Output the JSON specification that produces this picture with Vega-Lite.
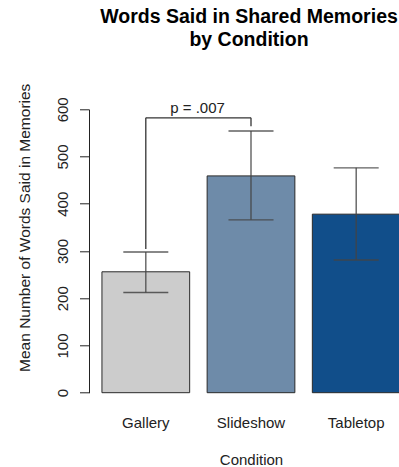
{
  "$schema": "https://vega.github.io/schema/vega-lite/v6.json",
  "width": 310,
  "height": 283.4,
  "autosize": {"type": "none"},
  "padding": {"left": 89, "top": 109.3, "right": 0, "bottom": 74.3},
  "background": "white",
  "title": {
    "text": ["Words Said in Shared Memories", "by Condition"],
    "font": "Liberation Sans",
    "fontSize": 19.5,
    "fontWeight": "bold",
    "color": "black",
    "anchor": "middle",
    "frame": "group",
    "dx": 5,
    "lineHeight": 22.5,
    "offset": 33
  },
  "config": {
    "view": {"stroke": null},
    "font": "Liberation Sans",
    "axis": {"grid": false}
  },
  "datasets": {
    "means": [
      {"cond": "Gallery", "mean": 256, "lo": 212, "hi": 298},
      {"cond": "Slideshow", "mean": 459, "lo": 366, "hi": 554},
      {"cond": "Tabletop", "mean": 378, "lo": 281, "hi": 476}
    ],
    "bracket": [
      {"cond": "Gallery", "cond2": "Gallery", "ya": 582, "yb": 304},
      {"cond": "Slideshow", "cond2": "Slideshow", "ya": 582, "yb": 564},
      {"cond": "Gallery", "cond2": "Slideshow", "ya": 582, "yb": 582}
    ],
    "note": [
      {"cond": "Gallery", "ya": 582, "label": "p = .007"}
    ]
  },
  "encoding": {
    "x": {
      "field": "cond",
      "type": "nominal",
      "sort": ["Gallery", "Slideshow", "Tabletop"],
      "scale": {
        "domain": ["Gallery", "Slideshow", "Tabletop"],
        "range": [0, 324],
        "paddingInner": 0.166,
        "paddingOuter": 0.123
      },
      "axis": {
        "title": "Condition",
        "labelAngle": 0,
        "ticks": false,
        "domain": false,
        "labelPadding": 23,
        "labelFontSize": 15,
        "labelColor": "#222",
        "titleFontSize": 15,
        "titleFontWeight": "normal",
        "titleColor": "#222",
        "titlePadding": 21.5
      }
    }
  },
  "layer": [
    {
      "data": {"name": "means"},
      "mark": {"type": "bar", "stroke": "#2a2a2a", "strokeWidth": 1},
      "encoding": {
        "y": {
          "field": "mean",
          "type": "quantitative",
          "scale": {"domain": [0, 600], "nice": false},
          "axis": {
            "title": "Mean Number of Words Said in Memories",
            "values": [0, 100, 200, 300, 400, 500, 600],
            "labelAngle": -90,
            "labelAlign": "center",
            "labelBaseline": "bottom",
            "labelPadding": 9,
            "labelFontSize": 15,
            "labelColor": "#222",
            "tickSize": 9.5,
            "tickColor": "#222",
            "domainColor": "#222",
            "titleFontSize": 15.5,
            "titleFontWeight": "normal",
            "titleColor": "#222",
            "titleAngle": -90,
            "titleBaseline": "middle",
            "titleAlign": "center",
            "titleX": -65,
            "titleY": 118
          }
        },
        "color": {
          "field": "cond",
          "type": "nominal",
          "scale": {
            "domain": ["Gallery", "Slideshow", "Tabletop"],
            "range": ["#CCCCCC", "#6E8BA9", "#114E8A"]
          },
          "legend": null
        }
      }
    },
    {
      "data": {"name": "means"},
      "mark": {"type": "rule", "color": "#444", "strokeWidth": 1.4, "opacity": 0.85},
      "encoding": {
        "y": {"field": "lo", "type": "quantitative"},
        "y2": {"field": "hi"}
      }
    },
    {
      "data": {"name": "means"},
      "mark": {"type": "tick", "color": "#444", "thickness": 1.4, "size": 45, "opacity": 0.85},
      "encoding": {
        "y": {"field": "lo", "type": "quantitative"}
      }
    },
    {
      "data": {"name": "means"},
      "mark": {"type": "tick", "color": "#444", "thickness": 1.4, "size": 45, "opacity": 0.85},
      "encoding": {
        "y": {"field": "hi", "type": "quantitative"}
      }
    },
    {
      "data": {"name": "bracket"},
      "mark": {"type": "rule", "color": "#333", "strokeWidth": 1.3},
      "encoding": {
        "x2": {"field": "cond2"},
        "y": {"field": "ya", "type": "quantitative"},
        "y2": {"field": "yb"}
      }
    },
    {
      "data": {"name": "note"},
      "mark": {"type": "text", "fontSize": 15, "color": "#222", "baseline": "alphabetic", "align": "center", "dy": -4.5},
      "encoding": {
        "x": {"field": "cond", "type": "nominal", "bandPosition": 1.09},
        "y": {"field": "ya", "type": "quantitative"},
        "text": {"field": "label"}
      }
    }
  ]
}
